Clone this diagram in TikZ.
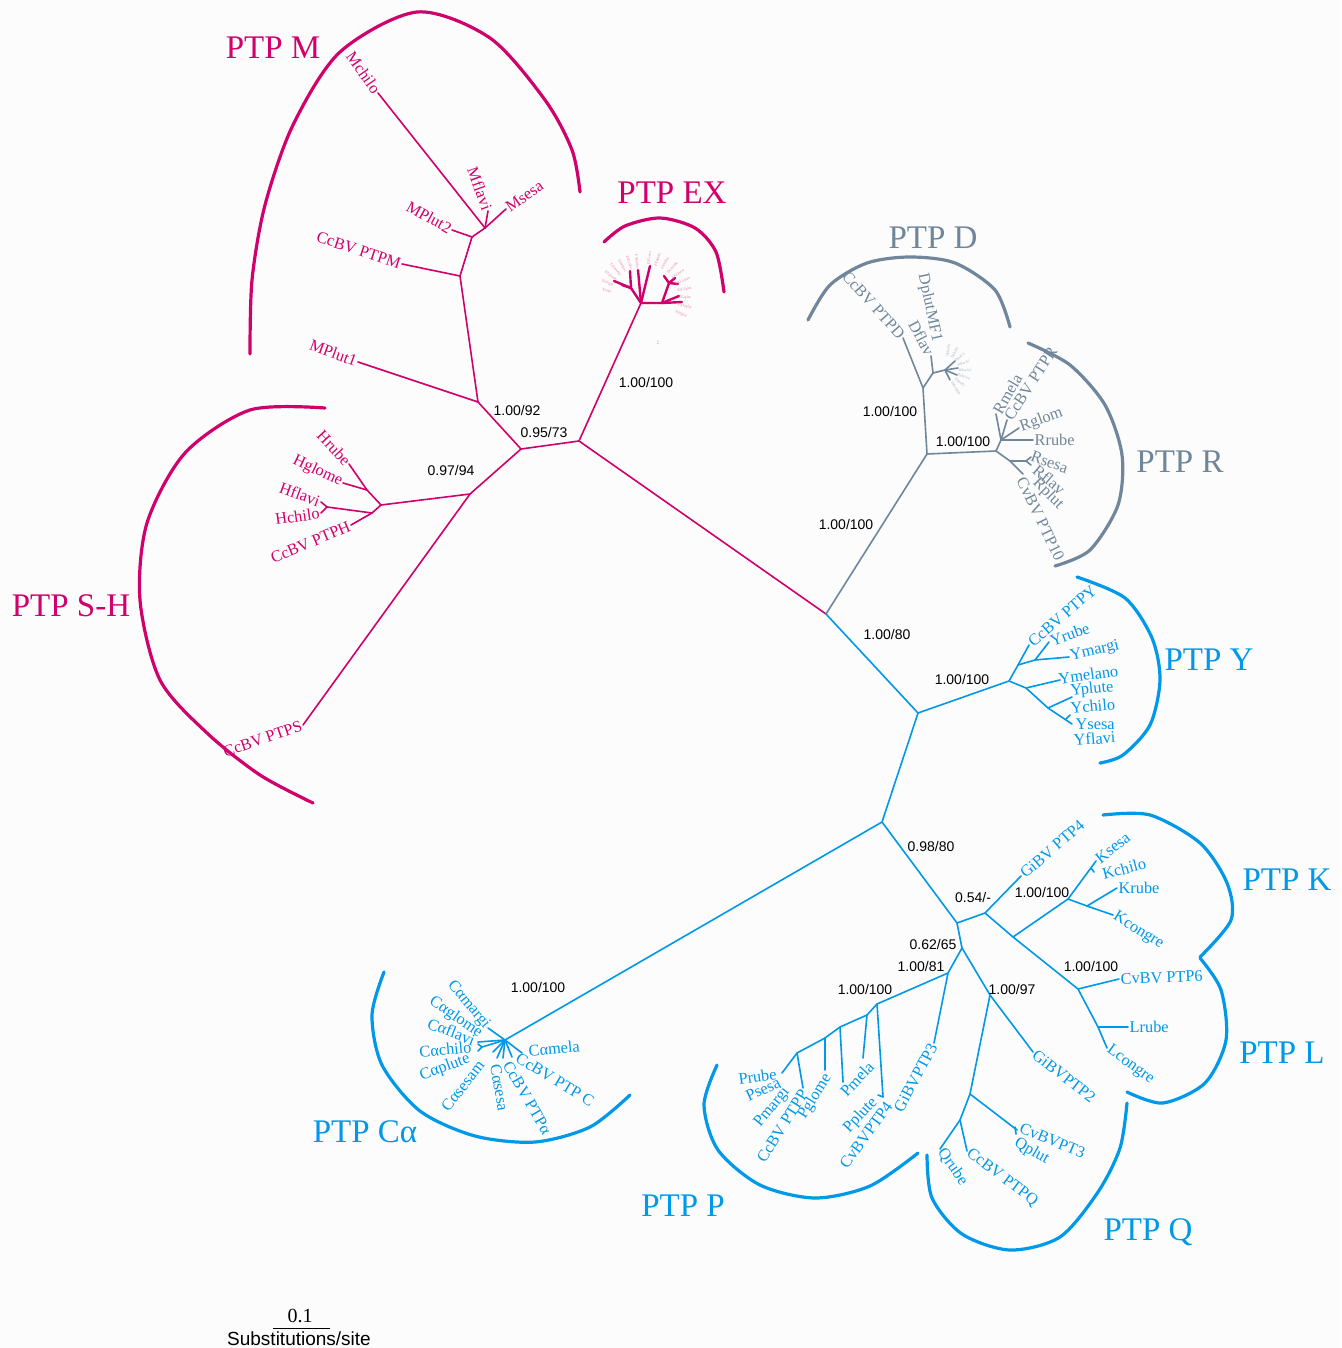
\documentclass[tikz,border=0pt]{standalone}
\usepackage{fontspec}
\setmainfont{Liberation Serif}
\newfontfamily\bootsans{Liberation Sans}
\usetikzlibrary{positioning}
\definecolor{ptpmag}{RGB}{208,0,108}
\definecolor{ptppink}{RGB}{236,120,165}
\definecolor{ptpgray}{RGB}{112,134,154}
\definecolor{ptpgraylt}{RGB}{165,176,188}
\definecolor{ptpblue}{RGB}{0,152,232}
\definecolor{bgpaper}{RGB}{252,252,252}

\begin{document}
\begin{tikzpicture}[x=1pt, y=-1pt,
  br/.style={line width=1.6pt, line cap=round, line join=round},
  thickbr/.style={line width=2.4pt, line cap=round},
  arcline/.style={line width=3.2pt, line cap=round},
  leaf/.style={font=\fontsize{16.3}{17}\selectfont, inner sep=1.5pt},
  clade/.style={font=\fontsize{33}{33}\selectfont, inner sep=0pt},
  boot/.style={font=\bootsans\fontsize{14}{14}\selectfont, text=black, inner sep=0pt},
  tinylab/.style={font=\fontsize{3.6}{4}\selectfont, inner sep=0.3pt},
]
\fill[bgpaper] (0,0) rectangle (1341,1348);
\useasboundingbox (0,0) rectangle (1341,1348);

\coordinate (ctr) at (826,614);

%% ── PTP M / S-H / EX (magenta) ───────────────────────────────────────────
\begin{scope}[ptpmag]
\coordinate (mA) at (579,441);
\coordinate (mB) at (521,449);
\coordinate (mM) at (478,402);
\coordinate (mM1) at (460,276);
\coordinate (mM2) at (472,237);
\coordinate (mM3) at (485,228);
\coordinate (mSH) at (470,494);
\coordinate (hA) at (381,505);
\coordinate (hB) at (367,490);
\coordinate (hC) at (372,513);
\coordinate (hF) at (327,507);

\node[leaf, rotate=-55, anchor=east] (Mchilo) at (378,93) {Mchilo};
\node[leaf, rotate=-70, anchor=east] (Mflavi) at (488,211) {Mflavi};
\node[leaf, rotate=35, anchor=west] (Msesa) at (506,209) {Msesa};
\node[leaf, rotate=-29, anchor=east] (MPlut2) at (452,230) {MPlut2};
\node[leaf, rotate=-18, anchor=east] (CcBVM) at (402,264) {CcBV PTPM};
\node[leaf, rotate=-20, anchor=east] (MPlut1) at (358,362) {MPlut1};
\node[leaf, rotate=-47, anchor=east] (Hrube) at (349,464) {Hrube};
\node[leaf, rotate=-25, anchor=east] (Hglome) at (343,483) {Hglome};
\node[leaf, rotate=-20, anchor=east] (Hflavi) at (321,502) {Hflavi};
\node[leaf, rotate=8, anchor=east] (Hchilo) at (321,513) {Hchilo};
\node[leaf, rotate=23, anchor=east] (CcBVH) at (351,525) {CcBV PTPH};
\node[leaf, rotate=19, anchor=east] (CcBVS) at (303,725) {CcBV PTPS};

\draw[br] (ctr) -- (mA) -- (mB) -- (mM);
\draw[br] (mB) -- (mSH) -- (hA) -- (hB) -- (Hrube.east);
\draw[br] (hB) -- (Hglome.east);
\draw[br] (hA) -- (hC) -- (hF) -- (Hflavi.east);
\draw[br] (hF) -- (Hchilo.east);
\draw[br] (hC) -- (CcBVH.east);
\draw[br] (mSH) -- (CcBVS.east);
\draw[br] (mM) -- (MPlut1.east);
\draw[br] (mM) -- (mM1) -- (CcBVM.east);
\draw[br] (mM1) -- (mM2) -- (MPlut2.east);
\draw[br] (mM2) -- (mM3) -- (Mchilo.east);
\draw[br] (mM3) -- (Mflavi.east);
\draw[br] (mM3) -- (Msesa.west);

% EX fan
\coordinate (eA) at (641,303);
\coordinate (eB) at (631,288);
\coordinate (eC) at (662,303);
\coordinate (eD) at (669,283);
\draw[br] (mA) -- (eA);
\draw[thickbr] (eA) -- (eB) -- (614,281);
\draw[thickbr] (eB) -- (622,285);
\draw[thickbr] (eB) -- (630,271);
\draw[thickbr] (eA) -- (638,270);
\draw[thickbr] (eA) -- (650,266);
\draw[thickbr] (eA) -- (eC) -- (eD) -- (664,276);
\draw[thickbr] (eD) -- (675,278);
\draw[thickbr] (eD) -- (678,284);
\draw[thickbr] (eC) -- (679,296);
\draw[thickbr] (eC) -- (682,302);
\foreach \ang/\nm in {168/Xrube, 156/Econgre, 144/EXglome, 132/EX3margi,
                      120/EX4flavi, 108/EX5chilo, 96/EX6rube}
  \node[tinylab, ptppink, rotate=\ang-180, anchor=east] (ex\nm)
    at ([shift={(641,298)}] -\ang:30) {\nm};
\foreach \ang/\nm in {84/EX7sesa, 72/EX8mela, 60/EX9flavi, 48/EX10rube,
                      36/EX13sesa, 24/EX11chilo, 12/EX12plut, 0/EX2plut,
                      -12/EX10plut, -24/EX9plut}
  \node[tinylab, ptppink, rotate=\ang, anchor=west] (ex\nm)
    at ([shift={(645,298)}] -\ang:33) {\nm};
\node[font=\fontsize{7}{7}\selectfont, inner sep=0pt] (exdots) at (658,343) {:};

% arcs
\draw[arcline] plot[smooth] coordinates {(250,354) (252,280) (265,205)
  (293,125) (340,52) (417,12) (490,38) (545,100) (572,150) (580,192)};
\draw[arcline] plot[smooth] coordinates {(325,408) (250,410) (185,453)
  (147,523) (140,600) (160,680) (207,733) (260,775) (313,803)};
\draw[arcline] plot[smooth] coordinates {(604,242) (625,226) (660,218)
  (695,228) (716,252) (724,292)};

\node[clade] (labM) at (273,48) {PTP M};
\node[clade] (labSH) at (71,606) {PTP S-H};
\node[clade] (labEX) at (672,193) {PTP EX};
\end{scope}

%% ── PTP D / R (gray) ─────────────────────────────────────────────────────
\begin{scope}[ptpgray]
\coordinate (gA) at (927,454);
\coordinate (gD) at (923,388);
\coordinate (gD2) at (933,373);
\coordinate (gDf) at (945,370);
\coordinate (gR) at (996,451);
\coordinate (gR1) at (1001,440);
\coordinate (gR2) at (1010,461);
\coordinate (gRf) at (1026,461);

\node[leaf, rotate=-48, anchor=east] (CcBVD) at (903,338) {CcBV PTPD};
\node[leaf, rotate=-78, anchor=east] (DplutMF1) at (937,343) {DplutMF1};
\node[leaf, rotate=-62, anchor=east] (Dflav) at (931,356) {Dflav};
\node[leaf, rotate=60, anchor=west] (Rmela) at (996,414) {Rmela};
\node[leaf, rotate=57, anchor=west] (CcBVR) at (1007,420) {CcBV PTPR};
\node[leaf, rotate=20, anchor=west] (Rglom) at (1019,428) {Rglom};
\node[leaf, anchor=west] (Rrube) at (1033,440) {Rrube};
\node[leaf, rotate=-20, anchor=west] (Rsesa) at (1030,455) {Rsesa};
\node[leaf, rotate=-40, anchor=west] (Rflav) at (1034,467) {Rflav};
\node[leaf, rotate=-45, anchor=west] (Rplut) at (1034,480) {Rplut};
\node[leaf, rotate=-64, anchor=west] (CvBV10) at (1020,477) {CvBV PTP10};

\draw[br] (ctr) -- (gA) -- (gD) -- (CcBVD.east);
\draw[br] (gD) -- (gD2) -- (Dflav.east);
\draw[br] (gD2) -- (gDf);
\draw[br] (gDf) -- (955,361);
\draw[br] (gDf) -- (958,368);
\draw[br] (gDf) -- (957,375);
\draw[br] (gDf) -- (950,380);
\draw[br] (gA) -- (gR) -- (gR1) -- (Rmela.west);
\draw[br] (gR1) -- (CcBVR.west);
\draw[br] (gR1) -- (Rglom.west);
\draw[br] (gR1) -- (Rrube.west);
\draw[br] (gR) -- (gR2) -- (gRf) -- (1031,457);
\draw[br] (gRf) -- (1031,465);
\draw[br] (gR2) -- (1023,474);
\foreach \ang/\nm in {80/DplutA1, 60/DplutB1, 40/DplutC1, 20/DflavA1,
                      0/DflavA3, -20/DplutA4, -40/DflavB1, -60/DplutMF3}
  \node[tinylab, ptpgraylt, rotate=\ang, anchor=west] (d\nm)
    at ([shift={(945,370)}] -\ang:13) {\nm};

\draw[arcline] plot[smooth] coordinates {(808,320) (830,285) (867,263)
  (910,257) (955,263) (995,290) (1010,327)};
\draw[arcline] plot[smooth] coordinates {(1028,343) (1070,365)
  (1105,405) (1122,455) (1118,505) (1090,550) (1055,566)};

\node[clade] (labD) at (933,238) {PTP D};
\node[clade] (labR) at (1180,462) {PTP R};
\end{scope}

%% ── PTP Y / Cα / K / L / P / Q (blue) ───────────────────────────────────
\begin{scope}[ptpblue]
\coordinate (bA) at (918,713);
\coordinate (bB) at (882,822);
\coordinate (bY) at (1009,681);
\coordinate (bY1) at (1018,665);
\coordinate (bY2) at (1035,660);
\coordinate (bY3) at (1026,688);
\coordinate (bY4) at (1048,708);
\coordinate (bYf) at (1066,719);
\coordinate (bC) at (505,1040);
\coordinate (bK0) at (957,923);
\coordinate (bK1) at (985,913);
\coordinate (bK2) at (1013,937);
\coordinate (bK) at (1068,899);
\coordinate (bK3) at (1087,906);
\coordinate (bL) at (1078,989);
\coordinate (bL1) at (1098,1027);
\coordinate (bPQ) at (962,948);
\coordinate (bP0) at (948,973);
\coordinate (bP) at (877,1004);
\coordinate (bP1) at (867,1015);
\coordinate (bP2) at (840,1027);
\coordinate (bP3) at (825,1038);
\coordinate (bP4) at (797,1053);
\coordinate (bQ0) at (990,995);
\coordinate (bQ1) at (970,1094);
\coordinate (bQ2) at (960,1120);

% Y
\node[leaf, rotate=41, anchor=west] (CcBVY) at (1029,645) {CcBV PTPY};
\node[leaf, rotate=20, anchor=west] (Yrube) at (1049,642) {Yrube};
\node[leaf, rotate=13, anchor=west] (Ymargi) at (1069,657) {Ymargi};
\node[leaf, rotate=8, anchor=west] (Ymelano) at (1057,679) {Ymelano};
\node[leaf, rotate=6, anchor=west] (Yplute) at (1069,692) {Yplute};
\node[leaf, rotate=5, anchor=west] (Ychilo) at (1069,708) {Ychilo};
\node[leaf, anchor=west] (Ysesa) at (1074,724) {Ysesa};
\node[leaf, rotate=4, anchor=west] (Yflavi) at (1072,740) {Yflavi};
\coordinate (tYme) at (1060,680);
\coordinate (tYpl) at (1072,697);
\coordinate (tYse) at (1072,724);
\draw[br] (ctr) -- (bA) -- (bY) -- (bY1) -- (CcBVY.west);
\draw[br] (bY1) -- (bY2) -- (Yrube.west);
\draw[br] (bY2) -- (Ymargi.west);
\draw[br] (bY) -- (bY3) -- (tYme);
\draw[br] (bY3) -- (bY4) -- (tYpl);
\draw[br] (bY4) -- (tYse);
\draw[br] (bYf) -- (1070,715);

% Calpha
\node[leaf, rotate=-50, anchor=east] (Cmargi) at (488,1028) {Cαmargi};
\node[leaf, rotate=-34, anchor=east] (Cglome) at (482,1035) {Cαglome};
\node[leaf, rotate=-21, anchor=east] (Cflavi) at (476,1041) {Cαflavi};
\node[leaf, rotate=5, anchor=east] (Cchilo) at (473,1047) {Cαchilo};
\node[leaf, rotate=20, anchor=east] (Cplute) at (471,1058) {Cαplute};
\node[leaf, rotate=52, anchor=east] (Csesam) at (482,1061) {Cαsesam};
\node[leaf, rotate=-80, anchor=west] (Csesa) at (495,1063) {Cαsesa};
\node[leaf, rotate=-60, anchor=west] (CcBVa) at (506,1061) {CcBV PTPα};
\node[leaf, rotate=-31, anchor=west] (CcBVC) at (516,1056) {CcBV PTP C};
\node[leaf, rotate=5, anchor=west] (Cmela) at (527,1051) {Cαmela};
\draw[br] (bA) -- (bB) -- (bC) -- (Cmargi.east);
\draw[br] (bC) -- (478,1042);
\draw[br] (bC) -- (482,1047) -- (478,1044);
\draw[br] (482,1047) -- (478,1051);
\draw[br] (bC) -- (493,1052);
\draw[br] (bC) -- (497,1058);
\draw[br] (bC) -- (503,1058);
\draw[br] (bC) -- (512,1057);
\draw[br] (bC) -- (522,1053);

% K and L
\node[leaf, rotate=41, anchor=west] (GiBV4) at (1021,876) {GiBV PTP4};
\node[leaf, rotate=38, anchor=west] (Ksesa) at (1096,861) {Ksesa};
\node[leaf, rotate=15, anchor=west] (Kchilo) at (1101,875) {Kchilo};
\node[leaf, anchor=west] (Krube) at (1117,888) {Krube};
\node[leaf, rotate=-32, anchor=west] (Kcongre) at (1113,915) {Kcongre};
\node[leaf, rotate=2, anchor=west] (CvBV6) at (1119,979) {CvBV PTP6};
\node[leaf, anchor=west] (Lrube) at (1128,1027) {Lrube};
\node[leaf, rotate=-36, anchor=west] (Lcongre) at (1107,1048) {Lcongre};
\draw[br] (bB) -- (bK0) -- (bK1) -- (GiBV4.west);
\draw[br] (bK1) -- (bK2) -- (bK) -- (Ksesa.west);
\draw[br] (1091,868) -- (1094,872);
\draw[br] (bK) -- (bK3) -- (Krube.west);
\draw[br] (bK3) -- (Kcongre.west);
\draw[br] (bK2) -- (bL) -- (CvBV6.west);
\draw[br] (bL) -- (bL1) -- (Lrube.west);
\draw[br] (bL1) -- (Lcongre.west);

% P
\node[leaf, rotate=7, anchor=east] (Prube) at (778,1074) {Prube};
\node[leaf, rotate=25, anchor=east] (Psesa) at (781,1081) {Psesa};
\node[leaf, rotate=51, anchor=east] (Pmargi) at (788,1088) {Pmargi};
\node[leaf, rotate=58, anchor=east] (CcBVP) at (805,1090) {CcBV PTPP};
\node[leaf, rotate=58, anchor=east] (Pglome) at (829,1074) {Pglome};
\node[leaf, rotate=47, anchor=east] (Pmela) at (872,1063) {Pmela};
\node[leaf, rotate=47, anchor=east] (Pplute) at (876,1099) {Pplute};
\node[leaf, rotate=54, anchor=east] (CvBV4) at (890,1102) {CvBVPTP4};
\node[leaf, rotate=62, anchor=east] (GiBV3) at (934,1043) {GiBVPTP3};
\coordinate (tPru) at (782,1073);
\coordinate (tPcc) at (803,1088);
\coordinate (tPgl) at (825,1070);
\coordinate (tP5) at (843,1082);
\coordinate (tPme) at (863,1058);
\coordinate (tPpl) at (883,1097);
\draw[br] (bK0) -- (bPQ) -- (bP0) -- (GiBV3.east);
\draw[br] (bP0) -- (bP) -- (tPpl) -- (878,1095);
\draw[br] (bP) -- (bP1) -- (tPme);
\draw[br] (bP1) -- (bP2) -- (tP5);
\draw[br] (bP2) -- (bP3) -- (tPgl);
\draw[br] (bP3) -- (bP4) -- (tPcc);
\draw[br] (bP4) -- (tPru);

% Q
\node[leaf, rotate=-38, anchor=west] (GiBV2) at (1033,1052) {GiBVPTP2};
\node[leaf, rotate=-22, anchor=west] (CvBV3) at (1019,1127) {CvBVPT3};
\node[leaf, rotate=-30, anchor=west] (Qplut) at (1014,1141) {Qplut};
\node[leaf, rotate=-55, anchor=west] (Qrube) at (940,1149) {Qrube};
\node[leaf, rotate=-37, anchor=west] (CcBVQ) at (967,1151) {CcBV PTPQ};
\coordinate (tQ3) at (1017,1130);
\draw[br] (bPQ) -- (bQ0) -- (GiBV2.west);
\draw[br] (bQ0) -- (bQ1) -- (tQ3);
\draw[br] (1015,1127) -- (1016,1134);
\draw[br] (bQ1) -- (bQ2) -- (Qrube.west);
\draw[br] (bQ2) -- (CcBVQ.west);

% arcs
\draw[arcline] plot[smooth] coordinates {(1077,577) (1125,598)
  (1152,638) (1160,680) (1150,725) (1123,755) (1100,763)};
\draw[arcline] plot[smooth] coordinates {(384,972) (372,1015)
  (382,1065) (420,1111) (475,1136) (535,1142) (590,1127) (630,1095)};
\draw[arcline] plot[smooth] coordinates {(1103,815) (1150,815)
  (1200,843) (1227,883) (1231,920) (1200,957)};
\draw[arcline] plot[smooth] coordinates {(1200,958) (1221,990)
  (1226,1040) (1205,1083) (1163,1103) (1127,1092)};
\draw[arcline] plot[smooth] coordinates {(717,1065) (704,1105)
  (718,1150) (760,1185) (815,1198) (870,1186) (918,1153)};
\draw[arcline] plot[smooth] coordinates {(927,1155) (932,1198)
  (962,1234) (1010,1250) (1060,1237) (1098,1192) (1120,1148) (1127,1103)};

\node[clade] (labY) at (1209,660) {PTP Y};
\node[clade] (labK) at (1287,880) {PTP K};
\node[clade] (labL) at (1282,1053) {PTP L};
\node[clade] (labCa) at (365,1132) {PTP Cα};
\node[clade] (labP) at (683,1206) {PTP P};
\node[clade] (labQ) at (1148,1232) {PTP Q};
\end{scope}

%% ── Support values ───────────────────────────────────────────────────────
\node[boot] (s92) at (517,410) {1.00/92};
\node[boot] (s73) at (544,432) {0.95/73};
\node[boot] (s94) at (451,470) {0.97/94};
\node[boot] (sEX) at (646,382) {1.00/100};
\node[boot] (sD) at (890,411) {1.00/100};
\node[boot] (sR) at (963,441) {1.00/100};
\node[boot] (sGR) at (846,524) {1.00/100};
\node[boot] (s80) at (887,634) {1.00/80};
\node[boot] (sY) at (962,679) {1.00/100};
\node[boot] (s98) at (931,846) {0.98/80};
\node[boot] (s54) at (973,897) {0.54/-};
\node[boot] (sK) at (1042,892) {1.00/100};
\node[boot] (s62) at (933,944) {0.62/65};
\node[boot] (s81) at (921,966) {1.00/81};
\node[boot] (s97) at (1012,989) {1.00/97};
\node[boot] (sL) at (1091,966) {1.00/100};
\node[boot] (sP) at (865,989) {1.00/100};
\node[boot] (sCa) at (538,987) {1.00/100};

%% ── Scale bar ────────────────────────────────────────────────────────────
\coordinate (scA) at (273,1328);
\coordinate (scB) at (330,1328);
\draw[line width=1pt] (scA) -- (scB);
\node[font=\fontsize{20}{20}\selectfont, inner sep=0pt] (scNum) at (300,1316) {0.1};
\node[font=\bootsans\fontsize{19}{19}\selectfont, inner sep=0pt] (scTxt) at (299,1339) {Substitutions/site};

\end{tikzpicture}
\end{document}
